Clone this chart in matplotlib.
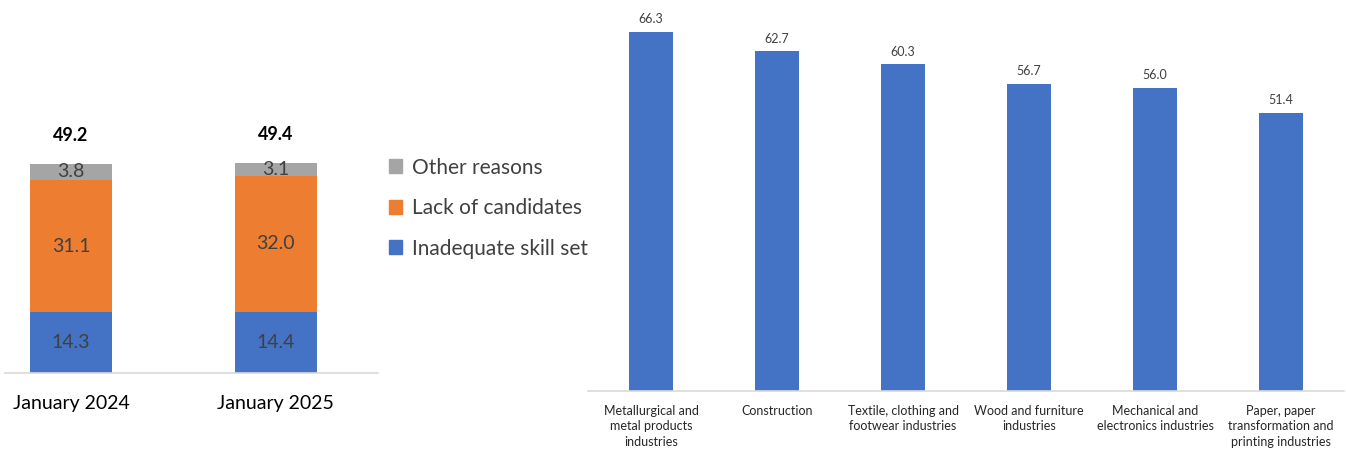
import matplotlib
matplotlib.use("Agg")
import matplotlib.pyplot as plt
from matplotlib.patches import Patch

plt.rcParams['font.family'] = ['Lato', 'DejaVu Sans']

# ---- data ----
periods = ["January 2024", "January 2025"]
skill = [14.3, 14.4]
lack = [31.1, 32.0]
other = [3.8, 3.1]
totals = [49.2, 49.4]
series_names = ["Inadequate skill set", "Lack of candidates", "Other reasons"]

industries = ["Metallurgical and\nmetal products\nindustries",
              "Construction",
              "Textile, clothing and\nfootwear industries",
              "Wood and furniture\nindustries",
              "Mechanical and\nelectronics industries",
              "Paper, paper\ntransformation and\nprinting industries"]
industry_values = [66.3, 62.7, 60.3, 56.7, 56.0, 51.4]

BLUE = "#4472C4"
ORANGE = "#ED7D31"
GRAY = "#A5A5A5"
LBL = "#404040"
AX = "#D9D9D9"

W, H = 1346, 450
fig = plt.figure(figsize=(W / 100, H / 100), dpi=100)

def px_axes(left, right, top, bottom):
    return fig.add_axes([left / W, (H - bottom) / H, (right - left) / W, (bottom - top) / H])

# ---- left stacked chart ----
ax1 = px_axes(5, 378, 100, 373)
x = range(len(periods))
bw = 0.40
b1 = ax1.bar(x, skill, bw, color=BLUE, label=series_names[0])
b2 = ax1.bar(x, lack, bw, bottom=skill, color=ORANGE, label=series_names[1])
bottoms3 = [s + l for s, l in zip(skill, lack)]
b3 = ax1.bar(x, other, bw, bottom=bottoms3, color=GRAY, label=series_names[2])
for bars, vals, bots in [(b1, skill, [0, 0]), (b2, lack, skill), (b3, other, bottoms3)]:
    for rect, v, bt in zip(bars, vals, bots):
        ax1.text(rect.get_x() + rect.get_width() / 2, bt + v / 2, f"{v:.1f}",
                 ha="center", va="center", fontsize=14, color=LBL)
for i, t in enumerate(totals):
    ax1.annotate(f"{t:.1f}", (i, t), xytext=(0, 14), textcoords="offset points",
                 ha="center", va="bottom", fontsize=13, fontweight="bold", color="black")
ax1.set_xlim(-0.322, 1.498)
ax1.set_ylim(0, 64.2)
ax1.set_xticks(list(x))
ax1.set_xticklabels(periods, fontsize=14, color="black")
ax1.tick_params(axis="x", length=0, pad=16)
ax1.set_yticks([])
for s in ["top", "right", "left"]:
    ax1.spines[s].set_visible(False)
ax1.spines["bottom"].set_color(AX)
ax1.spines["bottom"].set_linewidth(1.2)

handles = [Patch(color=GRAY), Patch(color=ORANGE), Patch(color=BLUE)]
fig.legend(handles, [series_names[2], series_names[1], series_names[0]],
           loc="upper left", bbox_to_anchor=(370 / W, 1 - 139 / H), frameon=False,
           fontsize=15, handlelength=0.65, handleheight=0.65, handletextpad=0.45,
           labelspacing=0.98, labelcolor=LBL)

# ---- right bar chart ----
ax2 = px_axes(588, 1344, 20, 391)
xi = range(len(industries))
bars = ax2.bar(xi, industry_values, 0.357, color=BLUE)
for rect, v in zip(bars, industry_values):
    ax2.annotate(f"{v:.1f}", (rect.get_x() + rect.get_width() / 2, v), xytext=(0, 5),
                 textcoords="offset points", ha="center", va="bottom", fontsize=9, color=LBL)
ax2.set_xlim(-0.5, 5.5)
ax2.set_ylim(0, 371 / 5.415)
ax2.set_xticks(list(xi))
ax2.set_xticklabels(industries, fontsize=9, color="#262626", linespacing=1.35, va="top")
ax2.tick_params(axis="x", length=0, pad=10)
ax2.set_yticks([])
for s in ["top", "right", "left"]:
    ax2.spines[s].set_visible(False)
ax2.spines["bottom"].set_color(AX)
ax2.spines["bottom"].set_linewidth(1.2)

fig.savefig("out.png", dpi=100)
